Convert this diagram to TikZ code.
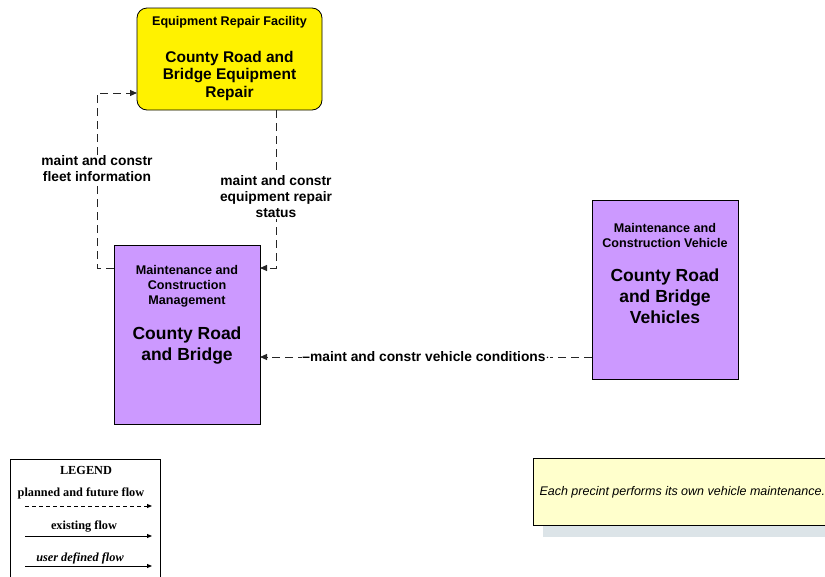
\documentclass[tikz,border=0pt]{standalone}
\usepackage{fontspec}
\setmainfont{Liberation Sans}
\newfontfamily\legfont{Liberation Serif}
\usetikzlibrary{arrows.meta}
\definecolor{purp}{HTML}{CC99FF}
\definecolor{noteyel}{HTML}{FFFFCC}
\definecolor{shad}{HTML}{DCE4E8}
\tikzset{
  flow/.style={draw=black!85, line width=1pt, dash pattern=on 8pt off 5pt, -{Triangle[length=7pt,width=6pt]}},
  lbl/.style={fill=white, inner sep=1pt, align=center, font=\fontsize{13.8}{16}\selectfont\bfseries},
  legarrow/.style={line width=0.9pt, -{Triangle[length=5pt,width=4pt]}},
  legtext/.style={font=\legfont\fontsize{12.3}{14}\selectfont\bfseries},
}
\begin{document}
\begin{tikzpicture}[x=1pt,y=-1pt]
\useasboundingbox (0,0) rectangle (825,576);
\begin{scope}
\clip (0,0) rectangle (825,576);
% boxes
\draw[fill=yellow, rounded corners=10pt, line width=0.8pt] (137,8) rectangle (322,110);
\node[font=\fontsize{12.6}{14}\selectfont\bfseries] at (229.5,22) {Equipment Repair Facility};
\node[font=\fontsize{15.5}{17.5}\selectfont\bfseries, align=center] at (229.5,75.5) {County Road and\\Bridge Equipment\\Repair};

\draw[fill=purp, line width=0.8pt] (114,245) rectangle (260,424);
\node[font=\fontsize{12.6}{15}\selectfont\bfseries, align=center] at (187,286.5) {Maintenance and\\Construction\\Management};
\node[font=\fontsize{17.5}{21}\selectfont\bfseries, align=center] at (187,346) {County Road\\and Bridge};

\draw[fill=purp, line width=0.8pt] (592,200) rectangle (738,379);
\node[font=\fontsize{12.6}{15}\selectfont\bfseries, align=center] at (665,235) {Maintenance and\\Construction Vehicle};
\node[font=\fontsize{17.5}{21}\selectfont\bfseries, align=center] at (665,296.5) {County Road\\and Bridge\\Vehicles};

% named anchor coordinates
\coordinate (mgmtL) at (114,268);
\coordinate (mgmtR) at (260,268);
\coordinate (mgmtR2) at (260,357);
\coordinate (erfL) at (137,93);
\coordinate (erfB) at (276,110);
\coordinate (vehL) at (592,357);

% flows
\draw[flow] (mgmtL) -- (97,268) -- (97,93) -- (erfL);
\node[lbl] at (97,169) {maint and constr\\fleet information};
\draw[flow] (erfB) -- (276,268) -- (mgmtR);
\node[lbl] at (276,196.5) {maint and constr\\equipment repair\\status};
\draw[flow] (vehL) -- (mgmtR2);
\node[lbl, inner sep=0pt] at (426,357) {--maint and constr vehicle conditions$\cdot$};

% legend
\draw[line width=1pt] (10,459) rectangle (160,590);
\node[legtext] at (86,470) {LEGEND};
\node[legtext] at (81,493.5) {planned and future flow};
\draw[legarrow, dash pattern=on 4pt off 3pt] (25,506) -- (152,506);
\node[legtext] at (84,527) {existing flow};
\draw[legarrow] (25,536) -- (152,536);
\node[legtext, font=\legfont\fontsize{12.3}{14}\selectfont\bfseries\itshape] at (80,558) {user defined flow};
\draw[legarrow] (25,566) -- (152,566);

% note
\fill[shad] (543,525) rectangle (840,537);
\draw[fill=noteyel, line width=0.8pt] (533,458) rectangle (840,525);
\node[font=\fontsize{12.5}{14}\selectfont\itshape, anchor=west] at (536,492) {Each precint performs its own vehicle maintenance.};
\end{scope}
\end{tikzpicture}
\end{document}
